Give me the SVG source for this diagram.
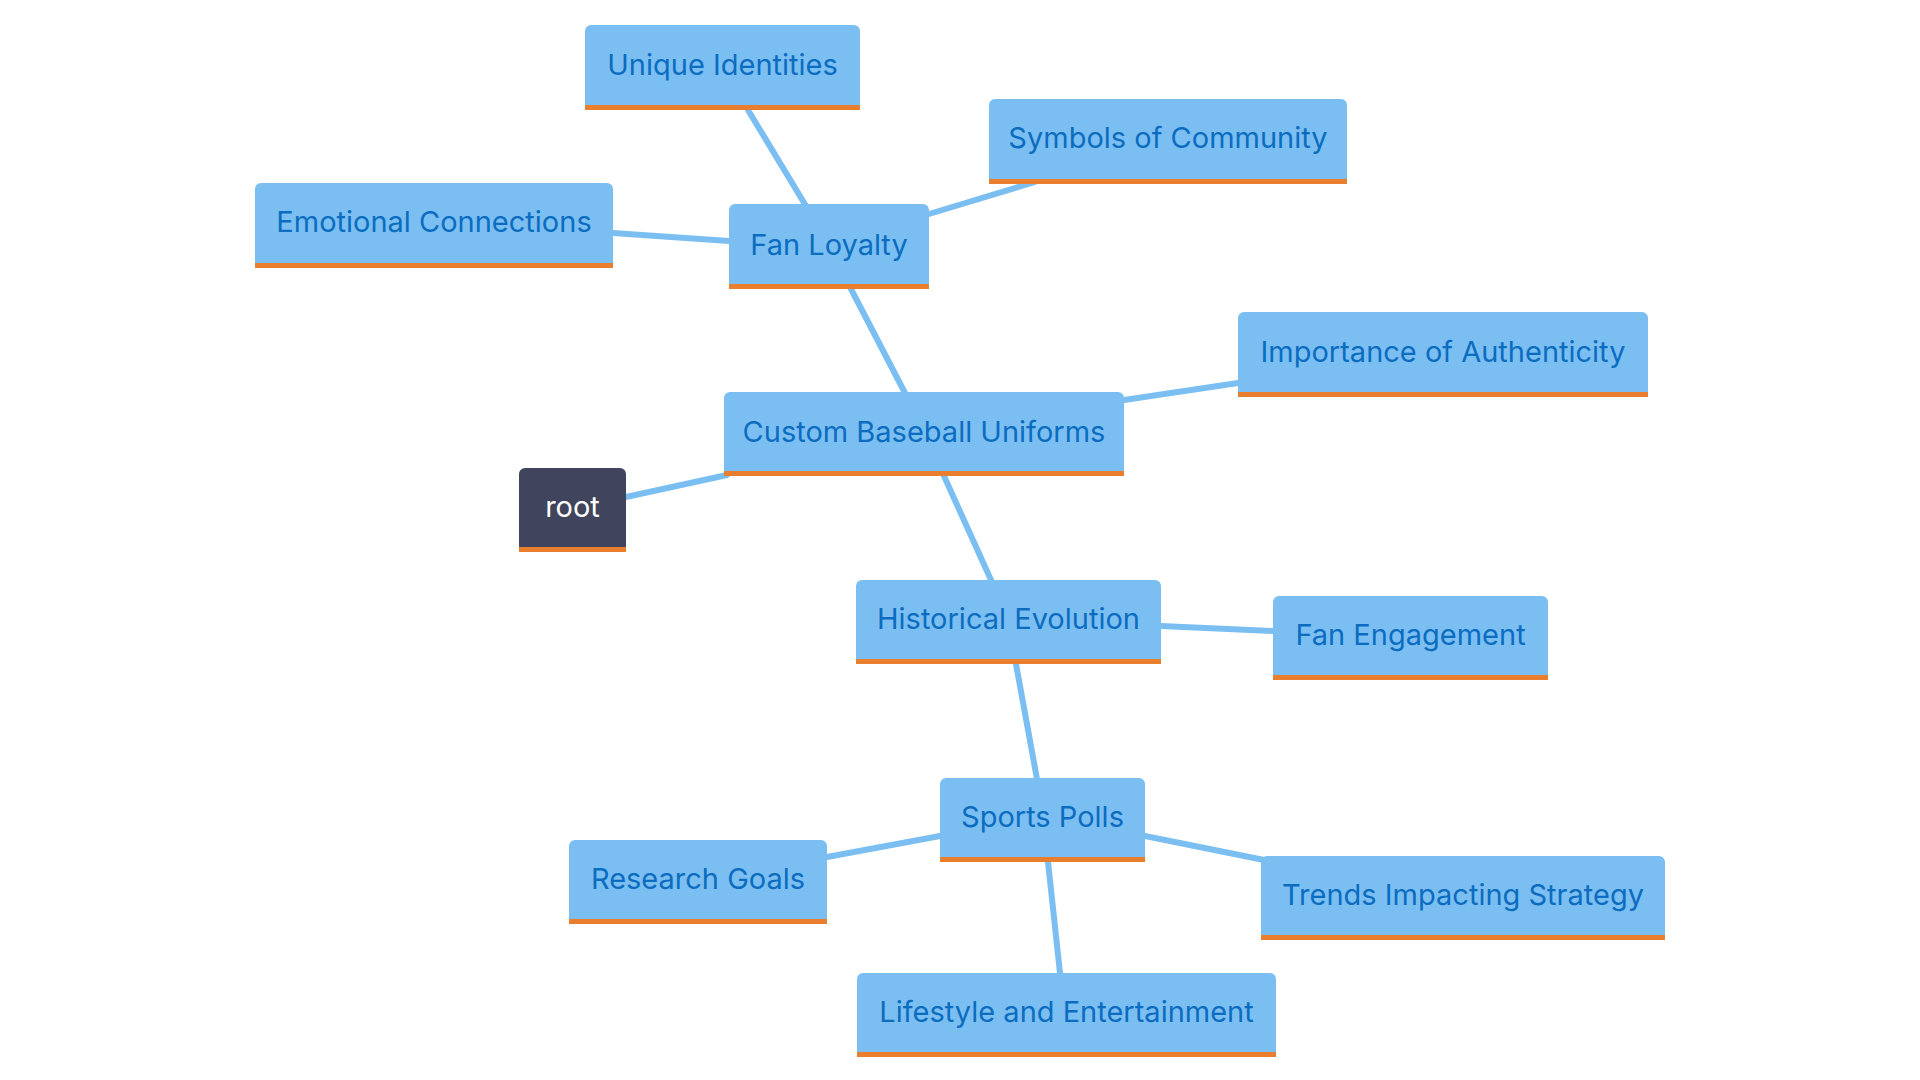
<svg xmlns="http://www.w3.org/2000/svg" width="1920" height="1080" viewBox="0 0 1920 1080">
<style>
.box{fill:#7bbff2}
.bar{fill:#e87e2e}
.t{font-family:Inter,"Open Sans","Liberation Sans",sans-serif;font-size:29px;fill:#0b6cc0;text-anchor:middle;dominant-baseline:central}
.rt{font-family:Inter,"Open Sans","Liberation Sans",sans-serif;font-size:29px;fill:#ffffff;text-anchor:middle;dominant-baseline:central}
.e{stroke:#7bbff2;stroke-width:6;fill:none;stroke-linecap:round}
</style>
<rect width="1920" height="1080" fill="#ffffff"/>
<g id="connectors">
<line class="e" x1="626" y1="497" x2="727" y2="475"/>
<line class="e" x1="905" y1="393" x2="851" y2="289"/>
<line class="e" x1="806" y1="206" x2="748" y2="110"/>
<line class="e" x1="929" y1="214" x2="1035" y2="182"/>
<line class="e" x1="729" y1="241" x2="613" y2="233"/>
<line class="e" x1="1124" y1="400" x2="1238" y2="383"/>
<line class="e" x1="944" y1="476" x2="991" y2="580"/>
<line class="e" x1="1161" y1="626" x2="1273" y2="631"/>
<line class="e" x1="1016" y1="664" x2="1037" y2="779"/>
<line class="e" x1="940" y1="836" x2="827" y2="857"/>
<line class="e" x1="1145" y1="836" x2="1264" y2="860"/>
<line class="e" x1="1048" y1="862" x2="1060" y2="973"/>
</g>
<g id="n-root">
<path d="M519,474 a6,6 0 0 1 6,-6 h95 a6,6 0 0 1 6,6 v78 h-107 z" fill="#40445c"/>
<rect class="bar" x="519" y="547" width="107" height="5"/>
<text class="rt" x="572.5" y="506">root</text>
</g>
<g id="n-cbu">
<path d="M724,398 a6,6 0 0 1 6,-6 h388 a6,6 0 0 1 6,6 v78 h-400 z" class="box"/>
<rect class="bar" x="724" y="471" width="400" height="5"/>
<text class="t" x="924" y="431">Custom Baseball Uniforms</text>
</g>
<g id="n-fanloyalty">
<path d="M729,210 a6,6 0 0 1 6,-6 h188 a6,6 0 0 1 6,6 v79 h-200 z" class="box"/>
<rect class="bar" x="729" y="284" width="200" height="5"/>
<text class="t" x="829" y="244">Fan Loyalty</text>
</g>
<g id="n-unique">
<path d="M585,31 a6,6 0 0 1 6,-6 h263 a6,6 0 0 1 6,6 v79 h-275 z" class="box"/>
<rect class="bar" x="585" y="105" width="275" height="5"/>
<text class="t" x="722.5" y="64">Unique Identities</text>
</g>
<g id="n-symbols">
<path d="M989,105 a6,6 0 0 1 6,-6 h346 a6,6 0 0 1 6,6 v79 h-358 z" class="box"/>
<rect class="bar" x="989" y="179" width="358" height="5"/>
<text class="t" x="1168" y="137">Symbols of Community</text>
</g>
<g id="n-emotional">
<path d="M255,189 a6,6 0 0 1 6,-6 h346 a6,6 0 0 1 6,6 v79 h-358 z" class="box"/>
<rect class="bar" x="255" y="263" width="358" height="5"/>
<text class="t" x="434" y="221">Emotional Connections</text>
</g>
<g id="n-authenticity">
<path d="M1238,318 a6,6 0 0 1 6,-6 h398 a6,6 0 0 1 6,6 v79 h-410 z" class="box"/>
<rect class="bar" x="1238" y="392" width="410" height="5"/>
<text class="t" x="1443" y="351">Importance of Authenticity</text>
</g>
<g id="n-historical">
<path d="M856,586 a6,6 0 0 1 6,-6 h293 a6,6 0 0 1 6,6 v78 h-305 z" class="box"/>
<rect class="bar" x="856" y="659" width="305" height="5"/>
<text class="t" x="1008.5" y="618">Historical Evolution</text>
</g>
<g id="n-fanengagement">
<path d="M1273,602 a6,6 0 0 1 6,-6 h263 a6,6 0 0 1 6,6 v78 h-275 z" class="box"/>
<rect class="bar" x="1273" y="675" width="275" height="5"/>
<text class="t" x="1410.5" y="634">Fan Engagement</text>
</g>
<g id="n-sportspolls">
<path d="M940,784 a6,6 0 0 1 6,-6 h193 a6,6 0 0 1 6,6 v78 h-205 z" class="box"/>
<rect class="bar" x="940" y="857" width="205" height="5"/>
<text class="t" x="1042.5" y="816">Sports Polls</text>
</g>
<g id="n-research">
<path d="M569,846 a6,6 0 0 1 6,-6 h246 a6,6 0 0 1 6,6 v78 h-258 z" class="box"/>
<rect class="bar" x="569" y="919" width="258" height="5"/>
<text class="t" x="698" y="878">Research Goals</text>
</g>
<g id="n-trends">
<path d="M1261,862 a6,6 0 0 1 6,-6 h392 a6,6 0 0 1 6,6 v78 h-404 z" class="box"/>
<rect class="bar" x="1261" y="935" width="404" height="5"/>
<text class="t" x="1463" y="894">Trends Impacting Strategy</text>
</g>
<g id="n-lifestyle">
<path d="M857,979 a6,6 0 0 1 6,-6 h407 a6,6 0 0 1 6,6 v78 h-419 z" class="box"/>
<rect class="bar" x="857" y="1052" width="419" height="5"/>
<text class="t" x="1066.5" y="1011">Lifestyle and Entertainment</text>
</g>
</svg>
